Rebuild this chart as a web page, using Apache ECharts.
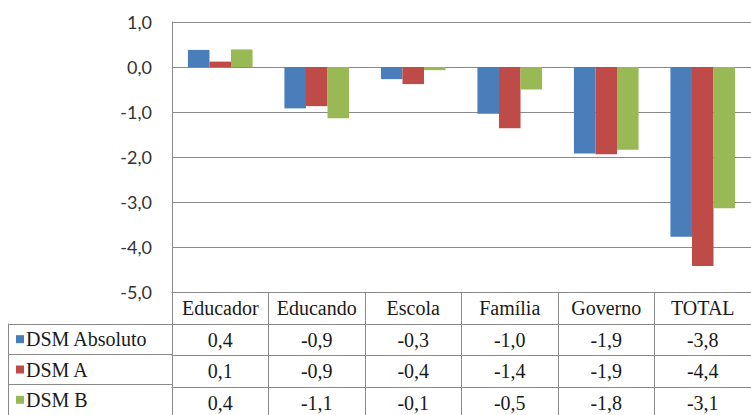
<!DOCTYPE html>
<html>
<head>
<meta charset="utf-8">
<script src="https://cdn.jsdelivr.net/npm/echarts@6/dist/echarts.min.js"></script>
<style>
  html, body { margin: 0; padding: 0; background: #ffffff; }
  #chart { width: 751px; height: 415px; }
</style>
</head>
<body>
<div id="chart"></div>
<script>
// ---- data ----
const categories = ['Educador', 'Educando', 'Escola', 'Família', 'Governo', 'TOTAL'];
const seriesNames = ['DSM Absoluto', 'DSM A', 'DSM B'];
const dsmAbsoluto = [0.38, -0.92, -0.27, -1.04, -1.92, -3.77];
const dsmA = [0.12, -0.87, -0.38, -1.36, -1.94, -4.42];
const dsmB = [0.39, -1.14, -0.07, -0.50, -1.84, -3.14];

// ---- styling ----
const colors = ['#4A7EBB', '#BE4B48', '#98B954'];
const gridColor = '#8a8a8a';
const serif = "'Liberation Serif', 'DejaVu Serif', serif";
const tableFont = 20;
const allSeries = [dsmAbsoluto, dsmA, dsmB];

function fmt(v) {
  return v.toFixed(1).replace('.', ',');
}

const chart = echarts.init(document.getElementById('chart'), null, { renderer: 'svg' });

const cellText = { fontFamily: serif, fontSize: tableFont, color: '#1a1a1a' };

const tableAxis = (k, offset) => ({
  type: 'category',
  gridIndex: 0,
  data: categories,
  position: 'bottom',
  offset: offset,
  axisLine: { show: true, onZero: false, lineStyle: { color: gridColor, width: 1 } },
  axisTick: { show: false },
  axisLabel: Object.assign({
    interval: 0,
    margin: 6,
    formatter: (v, i) => fmt(allSeries[k][i])
  }, cellText)
});

const richLabel = {
  t: Object.assign({ padding: [0, 0, 0, 2], lineHeight: 22 }, cellText)
};
colors.forEach((c, i) => {
  richLabel['k' + i] = { width: 8, height: 8, backgroundColor: c, lineHeight: 22, verticalAlign: 'middle' };
});

const option = {
  animation: false,
  backgroundColor: '#ffffff',
  grid: [
    { left: 172, top: 22, width: 582, height: 270 },
    { left: 8, top: 324, width: 164, height: 93 }
  ],
  xAxis: [
    {
      type: 'category',
      gridIndex: 0,
      data: categories,
      position: 'bottom',
      axisLine: { show: true, onZero: false, lineStyle: { color: gridColor, width: 1 } },
      axisTick: { show: true, interval: 0, length: 130, lineStyle: { color: gridColor, width: 1 } },
      axisLabel: Object.assign({ interval: 0, margin: 6 }, cellText)
    },
    tableAxis(0, 32),
    tableAxis(1, 63),
    tableAxis(2, 95),
    { type: 'value', gridIndex: 1, show: false }
  ],
  yAxis: [
    {
      type: 'value',
      gridIndex: 0,
      min: -5,
      max: 1,
      interval: 1,
      axisLine: { show: true, lineStyle: { color: gridColor, width: 1 } },
      axisTick: { show: false },
      splitLine: { show: true, lineStyle: { color: gridColor, width: 1 } },
      axisLabel: {
        margin: 20,
        fontFamily: 'Lato',
        fontSize: 18,
        color: '#333333',
        formatter: v => fmt(v)
      }
    },
    {
      type: 'category',
      gridIndex: 1,
      inverse: true,
      data: seriesNames,
      axisLine: { show: true, lineStyle: { color: gridColor, width: 1 } },
      axisTick: { show: false },
      splitLine: { show: true, interval: 0, lineStyle: { color: gridColor, width: 1 } },
      axisLabel: {
        inside: true,
        margin: 8,
        interval: 0,
        formatter: (v, i) => '{k' + i + '|}{t|' + v + '}',
        rich: richLabel
      }
    }
  ],
  series: seriesNames.map((name, k) => ({
    name: name,
    type: 'bar',
    xAxisIndex: 0,
    yAxisIndex: 0,
    data: allSeries[k],
    barGap: '0%',
    barCategoryGap: '33%',
    itemStyle: { color: colors[k] }
  }))
};

chart.setOption(option);
</script>
</body>
</html>
